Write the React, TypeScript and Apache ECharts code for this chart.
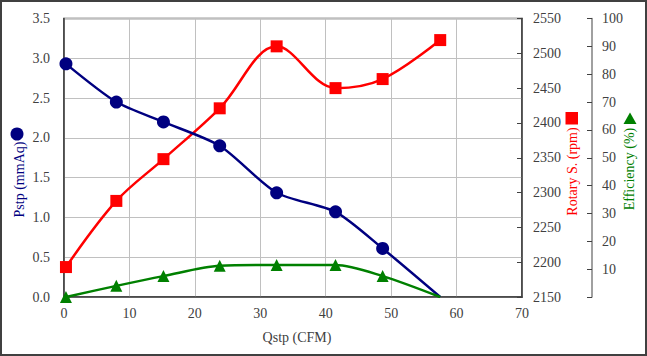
import React, { useEffect, useRef } from "react";
import * as echarts from "echarts";

const qstp = [0.3, 8.0, 15.2, 23.8, 32.5, 41.5, 48.7, 57.5];
const pstp = [2.93, 2.45, 2.2, 1.9, 1.31, 1.07, 0.61, 0.0];
const rpm = [2193, 2288, 2348, 2421, 2510, 2450, 2463, 2519];
const eff = [0.0, 4.0, 7.5, 11.2, 11.5, 11.5, 7.5, 0.0];
const hideLast = [false, false, false, false, false, false, false, true];

const FONT = "'Liberation Serif', serif";
const TXT = "#404040";

export default function App() {
  const ref = useRef<HTMLDivElement>(null);
  useEffect(() => {
    if (!ref.current) return;
    const chart = echarts.init(ref.current, undefined, { renderer: "svg" });
    const mk = (vals: number[], hide: boolean) =>
      vals.map((v, i) =>
        hide && hideLast[i] ? { value: [qstp[i], v], symbol: "none" } : { value: [qstp[i], v] }
      );
    const rich = { t: { fontSize: 14, fontFamily: "serif", color: TXT } };
    const lab = (margin: number, fmt: (v: number) => string) => ({
      margin,
      color: TXT,
      rich,
      formatter: (v: number) => {
        const s = fmt(v);
        return s === "" ? "" : "{t|" + s + "}";
      },
    });
    chart.setOption({
      animation: false,
      textStyle: { fontFamily: "serif" },
      grid: { left: 64, right: 125, top: 18.5, bottom: 59, show: true, borderColor: "#404040", borderWidth: 1.5 },
      xAxis: {
        type: "value",
        min: 0,
        max: 70,
        interval: 10,
        axisLine: { show: true, lineStyle: { color: "#404040", width: 1.5 } },
        axisTick: { show: false },
        axisLabel: lab(9, (v) => String(v)),
        splitLine: { show: true, lineStyle: { color: "#c0c0c0", width: 1 } },
      },
      yAxis: [
        {
          type: "value",
          min: 0,
          max: 3.5,
          interval: 0.5,
          axisLine: { show: true, lineStyle: { color: "#404040", width: 1.5 } },
          axisTick: { show: false },
          axisLabel: lab(14, (v) => v.toFixed(1)),
          splitLine: { show: true, lineStyle: { color: "#c0c0c0", width: 1 } },
        },
        {
          type: "value",
          position: "right",
          min: 2150,
          max: 2550,
          interval: 50,
          axisLine: { show: true, lineStyle: { color: "#404040", width: 1.5 } },
          axisTick: { show: true, inside: true, length: 5, lineStyle: { color: "#404040" } },
          axisLabel: lab(11, (v) => String(v)),
          splitLine: { show: false },
        },
        {
          type: "value",
          position: "right",
          offset: 70,
          min: 0,
          max: 100,
          interval: 10,
          axisLine: { show: true, lineStyle: { color: "#808080", width: 1.5 } },
          axisTick: { show: true, inside: true, length: 5, lineStyle: { color: "#404040" } },
          axisLabel: lab(10, (v) => (v === 0 ? "" : String(v))),
          splitLine: { show: false },
        },
      ],
      series: [
        {
          type: "line",
          yAxisIndex: 0,
          data: mk(pstp, true),
          smooth: 0.25,
          symbol: "circle",
          symbolSize: 13,
          lineStyle: { color: "#000080", width: 2.5 },
          itemStyle: { color: "#000080" },
          z: 3,
        },
        {
          type: "line",
          yAxisIndex: 1,
          data: mk(rpm, false),
          smooth: 0.35,
          symbol: "rect",
          symbolSize: 12,
          lineStyle: { color: "#ff0000", width: 2.5 },
          itemStyle: { color: "#ff0000" },
          z: 2,
        },
        {
          type: "line",
          yAxisIndex: 2,
          data: mk(eff, true),
          smooth: 0.3,
          symbol: "triangle",
          symbolSize: 12,
          lineStyle: { color: "#008000", width: 2.5 },
          itemStyle: { color: "#008000" },
          z: 4,
        },
      ],
      graphic: [
        {
          type: "rect",
          shape: { x: 1, y: 1, width: 645, height: 354 },
          style: { fill: "none", stroke: "#404040", lineWidth: 2 },
          silent: true,
        },
        {
          type: "text",
          x: 297,
          y: 337,
          style: { text: "Qstp (CFM)", fill: TXT, font: `14px ${FONT}`, align: "center", verticalAlign: "middle" },
        },
        {
          type: "text",
          x: 19,
          y: 179.5,
          rotation: Math.PI / 2,
          style: { text: "Pstp (mmAq)", fill: "#000080", font: `14px ${FONT}`, align: "center", verticalAlign: "middle" },
        },
        { type: "circle", shape: { cx: 17, cy: 134, r: 6.5 }, style: { fill: "#000080" } },
        {
          type: "text",
          x: 572,
          y: 171.5,
          rotation: Math.PI / 2,
          style: { text: "Rotary S. (rpm)", fill: "#ff0000", font: `14px ${FONT}`, align: "center", verticalAlign: "middle" },
        },
        { type: "rect", shape: { x: 565.5, y: 112, width: 12.5, height: 12.5 }, style: { fill: "#ff0000" } },
        {
          type: "text",
          x: 629,
          y: 169,
          rotation: Math.PI / 2,
          style: { text: "Efficiency (%)", fill: "#008000", font: `14px ${FONT}`, align: "center", verticalAlign: "middle" },
        },
        {
          type: "polygon",
          shape: { points: [[623.5, 124], [636.5, 124], [630, 112.5]] },
          style: { fill: "#008000" },
        },
      ],
    });
    return () => chart.dispose();
  }, []);
  return (
    <div
      ref={ref}
      style={{ position: "fixed", left: 0, top: 0, width: 647, height: 356, background: "#fff" }}
    />
  );
}
